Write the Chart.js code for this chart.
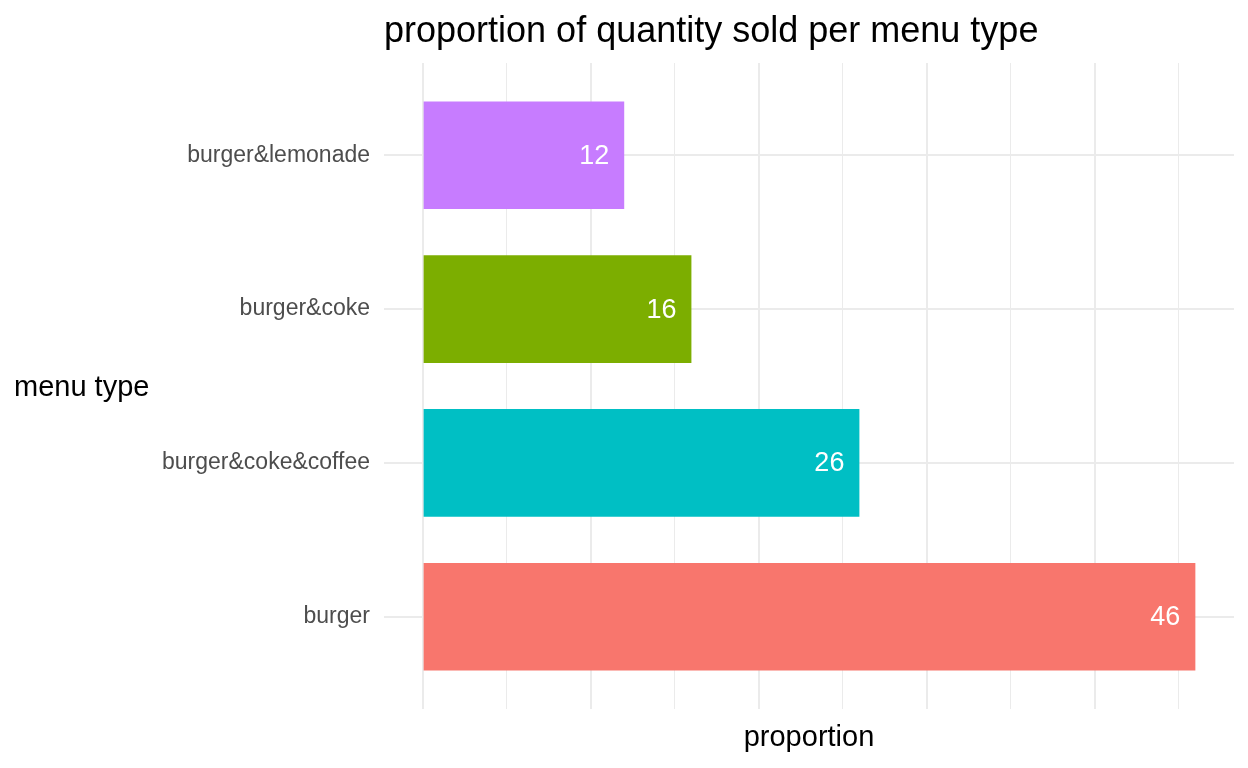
<!DOCTYPE html>
<html>
<head>
<meta charset="utf-8">
<script src="https://cdn.jsdelivr.net/npm/chart.js@4/dist/chart.umd.min.js"></script>
<style>
  html, body { margin: 0; padding: 0; background: #ffffff; }
  #wrap { width: 1248px; height: 768px; }
</style>
</head>
<body>
<div id="wrap"><canvas id="chart"></canvas></div>
<script>
// categories, top to bottom as drawn
const categories = ['burger&lemonade', 'burger&coke', 'burger&coke&coffee', 'burger'];
const proportions = [12, 16, 26, 46];
const barColors = ['#C77CFF', '#7CAE00', '#00BFC4', '#F8766D'];
const gridValues = [0, 5, 10, 15, 20, 25, 30, 35, 40, 45];

const chartTitle = 'proportion of quantity sold per menu type';
const xTitle = 'proportion';
const yTitle = 'menu type';

const FONT = '"Liberation Sans", Arial, sans-serif';

// linear index axis so the panel gets ggplot-style padding around the bars
const n = categories.length;
const positions = categories.map((c, i) => n - i);

// titles and value labels
const textPlugin = {
    id: 'texts',
    afterDatasetsDraw(chart) {
        const ctx = chart.ctx;
        const area = chart.chartArea;
        ctx.save();

        // values inside the bars
        const meta = chart.getDatasetMeta(0);
        ctx.fillStyle = '#ffffff';
        ctx.font = '27px ' + FONT;
        ctx.textAlign = 'right';
        ctx.textBaseline = 'middle';
        meta.data.forEach((bar, i) => {
            ctx.fillText(String(proportions[i]), bar.x - 15, bar.y + 1);
        });

        ctx.fillStyle = '#000000';
        ctx.font = '36px ' + FONT;
        ctx.textAlign = 'left';
        ctx.textBaseline = 'alphabetic';
        ctx.fillText(chartTitle, area.left, 42);

        ctx.font = '29px ' + FONT;
        ctx.textAlign = 'center';
        ctx.fillText(xTitle, (area.left + area.right) / 2, 746);

        ctx.textAlign = 'left';
        ctx.textBaseline = 'middle';
        ctx.fillText(yTitle, 14, 388);
        ctx.restore();
    }
};

new Chart(document.getElementById('chart'), {
    type: 'bar',
    data: {
        datasets: [{
            data: categories.map((c, i) => ({ x: proportions[i], y: positions[i] })),
            backgroundColor: barColors,
            borderWidth: 0,
            categoryPercentage: 0.7,
            barPercentage: 1
        }]
    },
    options: {
        indexAxis: 'y',
        responsive: true,
        maintainAspectRatio: false,
        animation: false,
        layout: { padding: { top: 63, right: 14, bottom: 59, left: 0 } },
        plugins: {
            legend: { display: false },
            tooltip: { enabled: false }
        },
        scales: {
            x: {
                type: 'linear',
                min: -2.3,
                max: 48.3,
                afterBuildTicks: (axis) => { axis.ticks = gridValues.map(v => ({ value: v })); },
                ticks: { display: false },
                border: { display: false },
                grid: {
                    color: '#EBEBEB',
                    drawTicks: false,
                    lineWidth: (c) => (c.tick && c.tick.value % 10 === 0 ? 2 : 1)
                }
            },
            y: {
                type: 'linear',
                min: 0.4,
                max: n + 0.6,
                offset: false,
                afterBuildTicks: (axis) => { axis.ticks = positions.map(v => ({ value: v })); },
                afterFit: (axis) => { axis.width = 384; },
                ticks: {
                    color: '#4D4D4D',
                    padding: 14,
                    font: { family: FONT, size: 23 },
                    callback: (v) => categories[n - v]
                },
                border: { display: false },
                grid: { color: '#EBEBEB', lineWidth: 2, drawTicks: false, offset: false }
            }
        }
    },
    plugins: [textPlugin]
});
</script>
</body>
</html>
